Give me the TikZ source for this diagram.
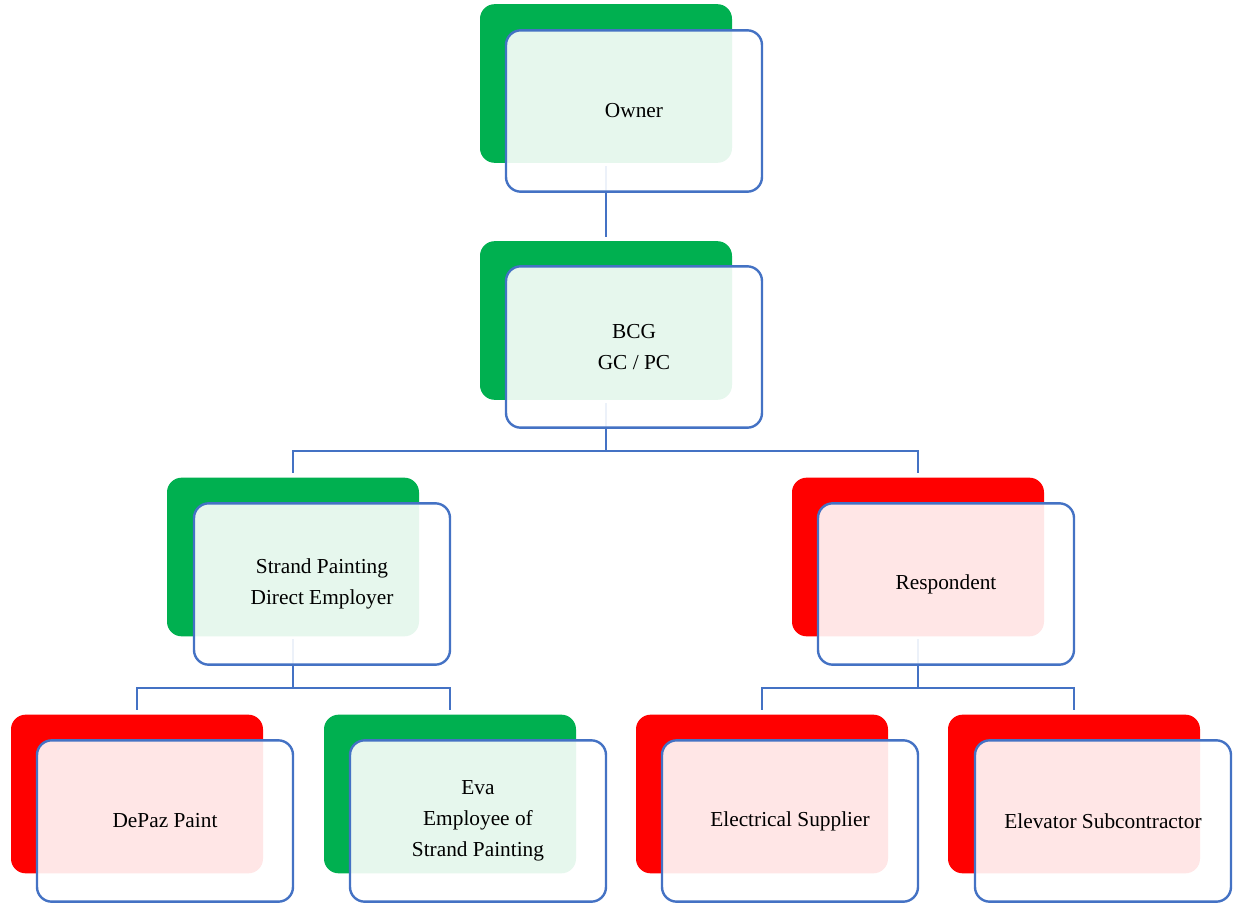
\documentclass[tikz,border=0pt]{standalone}
\usepackage{fontspec}
\setmainfont{Liberation Serif}
\definecolor{ogreen}{HTML}{00B050}
\definecolor{ored}{HTML}{FF0000}
\definecolor{oblue}{HTML}{4472C4}
\tikzset{
  backbox/.style={rectangle, rounded corners=11pt, minimum width=189pt, minimum height=119pt, inner sep=0pt, draw=none, fill=#1},
  frontbox/.style={rectangle, rounded corners=11pt, minimum width=192pt, minimum height=121pt, inner sep=0pt, draw=oblue, line width=1.8pt, fill=white, fill opacity=0.9, text opacity=1, align=center, font=\fontsize{16}{23.25}\selectfont},
  conn/.style={draw=oblue, line width=1.8pt, shorten <=2pt, shorten >=3pt},
}
\begin{document}
\begin{tikzpicture}[x=0.75pt, y=-0.75pt]
\useasboundingbox (0,0) rectangle (1233,903);
% back boxes
\node[backbox=ogreen] (ownerB) at (606,83.5) {};
\node[backbox=ogreen] (bcgB) at (606,320.5) {};
\node[backbox=ogreen] (strandB) at (293,557) {};
\node[backbox=ored] (respB) at (918,557) {};
\node[backbox=ored] (depazB) at (137,794) {};
\node[backbox=ogreen] (evaB) at (450,794) {};
\node[backbox=ored] (elecB) at (762,794) {};
\node[backbox=ored] (elevB) at (1074,794) {};
% junctions
\coordinate (j1) at (606,451);
\coordinate (j2) at (293,688);
\coordinate (j3) at (918,688);
% connectors
\draw[conn] (ownerB.south) -- (bcgB.north);
\draw[conn, shorten >=0pt] (bcgB.south) -- (j1);
\draw[conn, shorten <=0pt] (j1) -| (strandB.north);
\draw[conn, shorten <=0pt] (j1) -| (respB.north);
\draw[conn, shorten >=0pt] (strandB.south) -- (j2);
\draw[conn, shorten <=0pt] (j2) -| (depazB.north);
\draw[conn, shorten <=0pt] (j2) -| (evaB.north);
\draw[conn, shorten >=0pt] (respB.south) -- (j3);
\draw[conn, shorten <=0pt] (j3) -| (elecB.north);
\draw[conn, shorten <=0pt] (j3) -| (elevB.north);
% front boxes
\node[frontbox] (owner) at (634,111) {Owner};
\node[frontbox] (bcg) at (634,347) {BCG\\GC / PC};
\node[frontbox] (strand) at (322,584) {Strand Painting\\Direct Employer};
\node[frontbox] (resp) at (946,584) {Respondent};
\node[frontbox] (depaz) at (165,821) {DePaz Paint};
\node[frontbox] (eva) at (478,821) {Eva\\Employee of\\Strand Painting};
\node[frontbox] (elec) at (790,821) {Electrical Supplier};
\node[frontbox] (elev) at (1103,821) {Elevator Subcontractor};
\end{tikzpicture}
\end{document}
